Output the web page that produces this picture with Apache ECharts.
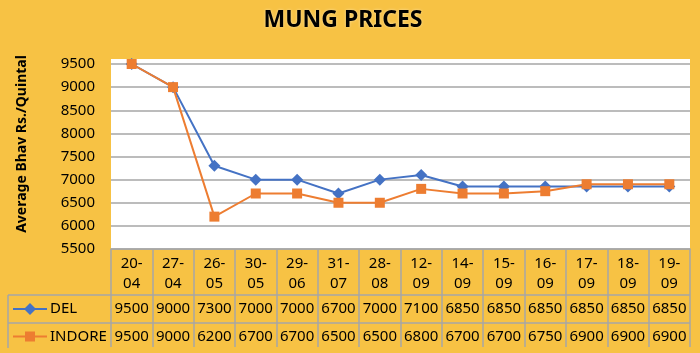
<!DOCTYPE html>
<html><head><meta charset="utf-8">
<script src="https://cdn.jsdelivr.net/npm/echarts@6/dist/echarts.min.js"></script>
<style>html,body{margin:0;padding:0;background:#F7C244}#c{width:700px;height:353px}</style>
</head><body><div id="c"></div>
<script>
const categories = ['20-04','27-04','26-05','30-05','29-06','31-07','28-08','12-09','14-09','15-09','16-09','17-09','18-09','19-09'];
const delValues = [9500,9000,7300,7000,7000,6700,7000,7100,6850,6850,6850,6850,6850,6850];
const indoreValues = [9500,9000,6200,6700,6700,6500,6500,6800,6700,6700,6750,6900,6900,6900];
const seriesNames = ['DEL','INDORE'];
const yMin = 5500, yMax = 9500, yStep = 500;
const titleText = 'MUNG PRICES';
const yTitle = 'Average Bhav Rs./Quintal';

const FONT = 'Noto Sans';
const BLUE = '#4472C4', ORANGE = '#ED7D31', GRID = '#A6A6A6';
const chart = echarts.init(document.getElementById('c'), null, {renderer:'canvas'});
const gl = 111, gr = 10, gt = 64, gb = 104;
chart.setOption({
  backgroundColor: '#F7C244',
  animation: false,
  title: {text: titleText, left: 338, textAlign: 'center', top: 4,
    textStyle: {fontFamily: FONT, fontSize: 23, fontWeight: 'bold', color: '#000',
      textShadowColor: 'rgba(255,255,255,0.5)', textShadowBlur: 3}},
  grid: {left: gl, right: gr, top: gt, bottom: gb},
  xAxis: {type: 'category', data: categories, boundaryGap: true, z: 3,
    axisLine: {show: true, lineStyle: {color: GRID, width: 1.5}},
    axisTick: {show: true, interval: 0, length: 98, lineStyle: {color: GRID, width: 1.5}},
    axisLabel: {interval: 0, margin: 5, fontFamily: FONT, fontSize: 15, color: '#000', lineHeight: 20,
      formatter: v => v.replace('-', '-\n')}},
  yAxis: {type: 'value', min: yMin, max: yMax, interval: yStep, z: 3,
    axisLine: {show: false}, axisTick: {show: false},
    splitLine: {lineStyle: {color: GRID, width: 1.5}},
    axisLabel: {margin: 16, fontFamily: FONT, fontSize: 15, color: '#000', formatter: v => String(v)}},
  series: [
    {name: seriesNames[0], type: 'line', data: delValues, symbol: 'diamond', symbolSize: 12, z: 4,
      lineStyle: {color: BLUE, width: 2}, itemStyle: {color: BLUE}},
    {name: seriesNames[1], type: 'line', data: indoreValues, symbol: 'rect', symbolSize: 10, z: 5,
      lineStyle: {color: ORANGE, width: 2}, itemStyle: {color: ORANGE}}
  ]
});

const tableTop = 249, row1 = 295, row2 = 323, tableBottom = 348, tableLeft = 8, tableRight = 690;
const els = [];
els.push({type: 'rect', z: -10, shape: {x: gl, y: 59, width: 700 - gl - gr, height: tableTop - 59}, style: {fill: '#fff'}});
els.push({type: 'line', z: 10, shape: {x1: tableLeft, y1: row1, x2: tableRight, y2: row1}, style: {stroke: GRID, lineWidth: 1.5}});
els.push({type: 'line', z: 10, shape: {x1: tableLeft, y1: row2, x2: tableRight, y2: row2}, style: {stroke: GRID, lineWidth: 1.5}});
els.push({type: 'line', z: 10, shape: {x1: tableLeft, y1: row1, x2: tableLeft, y2: tableBottom}, style: {stroke: GRID, lineWidth: 1.5}});
els.push({type: 'text', z: 10, x: 22, y: 144, rotation: -Math.PI / 2,
  style: {text: yTitle, font: 'bold 14px "' + FONT + '"', fill: '#000', align: 'center', verticalAlign: 'middle'}});
els[els.length - 1].rotation = Math.PI / 2;
const r1c = (row1 + row2) / 2, r2c = (row2 + tableBottom) / 2 + 1;
els.push({type: 'line', z: 10, shape: {x1: 13, y1: r1c, x2: 47, y2: r1c}, style: {stroke: BLUE, lineWidth: 2}});
els.push({type: 'polygon', z: 10, shape: {points: [[30, r1c - 6], [36, r1c], [30, r1c + 6], [24, r1c]]}, style: {fill: BLUE}});
els.push({type: 'line', z: 10, shape: {x1: 13, y1: r2c, x2: 47, y2: r2c}, style: {stroke: ORANGE, lineWidth: 2}});
els.push({type: 'rect', z: 10, shape: {x: 25, y: r2c - 5, width: 10, height: 10}, style: {fill: ORANGE}});
els.push({type: 'text', z: 10, x: 50, y: r1c, style: {text: seriesNames[0], font: '15px "' + FONT + '"', fill: '#000', verticalAlign: 'middle'}});
els.push({type: 'text', z: 10, x: 50, y: r2c, style: {text: seriesNames[1], font: '15px "' + FONT + '"', fill: '#000', verticalAlign: 'middle'}});
[delValues, indoreValues].forEach((arr, k) => {
  arr.forEach((v, i) => {
    const x = chart.convertToPixel({xAxisIndex: 0}, i);
    els.push({type: 'text', z: 10, x: x, y: k === 0 ? r1c : r2c,
      style: {text: String(v), font: '15px "' + FONT + '"', fill: '#000', align: 'center', verticalAlign: 'middle'}});
  });
});
chart.setOption({graphic: {elements: els}});
</script></body></html>
